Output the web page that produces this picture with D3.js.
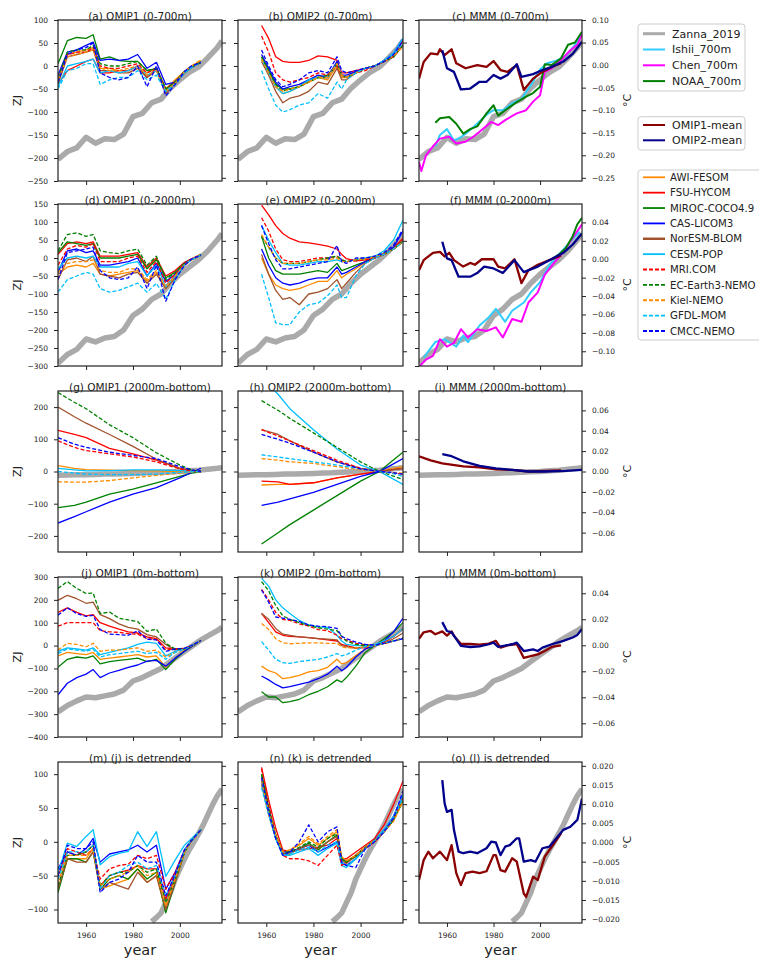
<!DOCTYPE html>
<html><head><meta charset="utf-8">
<script src="https://cdn.jsdelivr.net/npm/d3@7"></script>
<style>body{margin:0;background:#fff}svg text{font-family:"DejaVu Sans",sans-serif;fill:#222}</style>
</head><body><svg id="c" width="759" height="961"></svg>
<script>
// ---------------- DATA ----------------
const modelNames=["AWI-FESOM","FSU-HYCOM","MIROC-COCO4.9","CAS-LICOM3","NorESM-BLOM","CESM-POP","MRI.COM","EC-Earth3-NEMO","Kiel-NEMO","GFDL-MOM","CMCC-NEMO"];
const modelColors=["darkorange","red","green","blue","sienna","deepskyblue","red","green","darkorange","deepskyblue","blue"];
const modelDashed=[false,false,false,false,false,false,true,true,true,true,true];

const titles=["(a) OMIP1 (0-700m)","(b) OMIP2 (0-700m)","(c) MMM (0-700m)",
"(d) OMIP1 (0-2000m)","(e) OMIP2 (0-2000m)","(f) MMM (0-2000m)",
"(g) OMIP1 (2000m-bottom)","(h) OMIP2 (2000m-bottom)","(i) MMM (2000m-bottom)",
"(j) OMIP1 (0m-bottom)","(k) OMIP2 (0m-bottom)","(l) MMM (0m-bottom)",
"(m) (j) is detrended","(n) (k) is detrended","(o) (l) is detrended"];

const xTicks=[1960,1980,2000];

// year grids
const yrsO1=[1948,1952,1956,1960,1963,1966,1970,1974,1978,1982,1986,1990,1994,1998,2002,2005,2009];
const yrsO2=[1958,1961,1964,1967,1970,1974,1978,1982,1986,1990,1992,1994,1998,2002,2006,2010,2014,2018];
const yrsO1s=[1948,1955,1960,1970,1980,1990,2000,2005,2009];
const yrsO2s=[1958,1965,1970,1980,1990,2000,2008,2013,2018];

// Zanna_2019 (ZJ)
const yrsZ=[1948,1952,1956,1960,1964,1968,1972,1976,1980,1984,1988,1992,1996,2000,2004,2008,2012,2016,2018];
const zanna700=[-203,-186,-178,-155,-168,-158,-160,-148,-110,-103,-80,-72,-48,-30,-14,-2,18,40,55];
const zanna2000=[-292,-268,-254,-225,-233,-222,-218,-200,-160,-142,-115,-100,-70,-45,-25,-5,20,50,68];
const zannaDeep=[-12,-11,-10,-10,-9,-8,-8,-7,-6,-5,-4,-2,-1,0,2,4,7,10,12];
const zannaFull=[-290,-262,-242,-225,-228,-220,-212,-195,-155,-140,-120,-100,-70,-40,-12,18,42,65,80];
const yrsZd=[1988,1990,1992,1994,1996,1998,2000,2002,2004,2006,2008,2010,2012,2014,2016,2018];
const zannaDet=[-118,-112,-105,-90,-75,-55,-40,-25,-12,0,12,25,40,55,68,78];

// (a) OMIP1 0-700m, ZJ, order of modelNames
const omip1_700=[
[-35,25,30,35,40,-5,-5,-10,-10,0,-15,-5,-50,-30,-12,0,12],
[-40,-10,0,10,15,-15,-15,-10,-10,0,-25,-5,-55,-40,-15,-3,8],
[5,55,62,60,68,15,20,12,10,10,-10,-5,-50,-35,-12,-2,8],
[-20,30,35,45,52,12,15,12,15,25,-5,8,-40,-35,-12,0,8],
[-40,20,25,30,35,-10,-10,-15,-15,-5,-25,-10,-60,-40,-15,-3,8],
[-45,0,5,10,15,-15,-10,-15,-10,0,-20,-10,-55,-40,-15,-3,8],
[-30,25,30,30,40,0,-5,-5,0,5,-15,-5,-50,-35,-12,-2,8],
[-25,30,35,35,45,5,0,0,5,10,-10,-5,-50,-35,-12,-2,8],
[-30,20,25,30,35,-5,-10,-10,-5,0,-20,-10,-55,-38,-12,0,14],
[-50,-10,-5,5,5,-40,-30,-25,-25,-10,-30,-20,-55,-40,-15,-3,8],
[-35,25,35,40,50,-15,-25,-30,-25,0,-45,0,-65,-40,-12,0,8]];
// (b) OMIP2 0-700m
const omip2_700=[
[15,-15,-45,-60,-55,-45,-35,-25,-30,0,-25,-25,-15,-5,0,10,22,45],
[88,60,20,10,8,8,12,22,20,12,-15,-15,-10,-5,0,10,25,55],
[20,-10,-40,-50,-50,-45,-30,-25,-20,5,-20,-25,-15,-5,0,10,20,45],
[25,-5,-35,-50,-45,-40,-30,-20,-25,10,-20,-20,-12,-5,0,12,28,60],
[10,-20,-55,-80,-70,-65,-55,-35,-40,-5,-30,-30,-15,-5,0,10,22,45],
[15,-15,-45,-60,-55,-45,-30,-25,-25,5,-20,-25,-15,-5,0,12,28,60],
[65,30,-15,-30,-35,-30,-25,-15,-20,0,-20,-25,-15,-10,0,10,20,45],
[20,-10,-40,-55,-50,-45,-35,-25,-25,5,-20,-25,-15,-5,0,10,20,45],
[15,-15,-45,-55,-50,-45,-35,-25,-25,5,-20,-25,-15,-5,0,10,22,42],
[-10,-50,-85,-100,-95,-85,-80,-60,-70,-35,-50,-30,-15,-5,0,12,25,50],
[35,0,-30,-45,-40,-30,-15,-10,-15,20,-10,-15,-10,-5,0,10,25,55]];
// (d) OMIP1 0-2000m
const omip1_2000=[
[-45,-25,-20,-25,-15,-45,-50,-45,-40,-35,-65,-40,-85,-55,-20,-3,10],
[10,40,45,40,45,5,5,5,10,15,-25,0,-50,-35,-12,-2,10],
[15,45,40,35,40,0,0,0,5,10,-30,-5,-55,-40,-15,-3,8],
[-40,20,25,15,20,-20,-20,-15,-10,0,-50,-15,-65,-45,-15,-3,8],
[-60,-5,0,-10,5,-45,-50,-55,-45,-40,-70,-45,-85,-55,-20,-5,8],
[-30,0,5,0,5,-25,-25,-25,-15,-10,-50,-20,-80,-50,-18,-3,8],
[-20,25,35,30,40,-10,-10,-10,0,5,-40,-10,-70,-45,-15,-3,8],
[20,65,70,60,65,20,15,12,20,25,-20,5,-60,-40,-15,-5,10],
[-40,-15,-10,-10,-5,-35,-40,-40,-30,-30,-60,-35,-80,-50,-18,-3,10],
[-95,-60,-50,-40,-45,-85,-95,-90,-80,-70,-95,-70,-115,-60,-20,-5,8],
[-60,15,20,25,30,-35,-55,-60,-55,-25,-85,-20,-120,-60,-20,-3,8]];
// (e) OMIP2 0-2000m
const omip2_2000=[
[0,-45,-75,-85,-90,-85,-75,-65,-65,-35,-55,-45,-30,-12,0,10,25,45],
[147,120,90,68,55,45,42,38,33,25,10,-2,-8,-5,0,12,28,55],
[60,0,-35,-45,-45,-45,-40,-35,-40,-15,-35,-30,-20,-10,0,10,25,50],
[25,-20,-55,-70,-75,-70,-60,-55,-55,-25,-45,-40,-25,-10,0,12,30,75],
[10,-45,-90,-115,-110,-130,-100,-95,-85,-60,-85,-70,-40,-15,0,10,25,50],
[90,50,15,-15,-20,-20,-15,-10,-10,-5,-10,-10,-5,0,5,20,50,105],
[112,75,25,-5,-10,-10,-5,0,0,5,-5,-10,-8,-5,0,10,25,50],
[60,30,0,-15,-15,-15,-10,-5,0,5,-5,-10,-5,-2,3,12,25,45],
[65,30,0,-15,-15,-15,-10,-5,-5,0,-10,-10,-5,-2,3,12,25,45],
[-45,-110,-180,-185,-185,-150,-130,-125,-105,-75,-110,-110,-50,-15,0,10,25,45],
[90,40,-5,-30,-30,-25,-20,-15,-10,35,-10,-15,0,0,5,15,35,80]];
// (g) OMIP1 2000m-bottom
const omip1_deep=[
[18,10,6,4,3,2,0,0,0],
[128,115,105,72,55,35,10,3,0],
[-112,-105,-95,-70,-55,-35,-15,-5,0],
[-160,-140,-125,-95,-70,-50,-20,-3,10],
[200,170,150,115,78,38,10,3,0],
[10,5,2,3,5,5,3,1,0],
[95,75,65,55,45,30,8,2,0],
[245,215,195,145,105,58,20,5,0],
[-32,-33,-33,-28,-20,-12,-5,-2,0],
[0,-5,-8,-10,-10,-8,-3,-1,0],
[105,85,75,60,50,40,15,5,0]];
// (h) OMIP2 2000m-bottom
const omip2_deep=[
[-42,-40,-40,-35,-20,-8,0,8,15],
[-30,-32,-40,-35,-20,-8,0,5,10],
[-225,-190,-165,-120,-75,-30,0,30,60],
[-105,-95,-85,-65,-40,-15,0,20,40],
[130,115,95,60,30,10,0,5,10],
[290,240,195,130,70,20,0,-20,-40],
[130,110,95,65,35,10,0,-5,-8],
[220,190,165,120,75,30,0,-12,-25],
[40,35,30,25,15,5,0,-3,-5],
[52,45,40,30,20,8,0,-5,-15],
[115,100,88,60,30,8,0,-3,-8]];
// (j) OMIP1 0m-bottom
const omip1_full=[
[-45,-30,-35,-40,-30,-60,-55,-50,-45,-40,-50,-45,-95,-55,-20,-2,22],
[145,165,145,130,135,100,85,72,60,55,38,30,-10,-15,-12,0,22],
[-95,-60,-50,-55,-45,-80,-70,-65,-60,-55,-70,-60,-105,-60,-25,-5,22],
[-215,-165,-140,-125,-105,-140,-120,-108,-95,-85,-68,-65,-90,-55,-25,-5,22],
[198,220,205,185,190,135,118,95,80,72,48,38,5,-20,-15,-3,22],
[-25,-10,-15,-20,-10,-40,-30,-20,-10,5,15,10,-45,-25,-12,0,22],
[85,100,100,100,100,65,60,58,52,50,30,28,-20,-15,-12,0,22],
[250,280,250,228,230,140,147,120,112,105,62,72,10,-15,-15,-3,22],
[-20,10,5,-5,10,-25,-20,-20,-15,-10,-25,-20,-50,-30,-15,-2,22],
[-35,-15,-20,-25,-15,-50,-40,-35,-30,-25,-35,-30,-60,-30,-15,0,22],
[133,165,140,128,132,70,50,48,45,65,28,25,-25,-15,-12,0,22]];
// (k) OMIP2 0m-bottom
const omip2_full=[
[-90,-110,-120,-145,-140,-130,-115,-110,-95,-60,-80,-75,-45,-15,0,15,40,75],
[141,100,60,45,40,38,35,30,25,20,5,0,-10,-10,0,15,40,75],
[-202,-225,-225,-250,-245,-235,-215,-200,-180,-150,-160,-140,-90,-30,0,30,60,100],
[-133,-150,-170,-185,-180,-170,-160,-145,-125,-90,-110,-95,-50,-15,0,20,60,120],
[140,115,75,50,45,38,35,30,28,25,0,-5,-12,-5,0,10,30,55],
[294,260,200,165,140,110,90,82,80,45,20,5,0,0,5,20,40,75],
[246,200,145,115,110,95,85,70,65,45,30,25,10,3,0,8,20,35],
[280,240,175,130,115,100,88,78,72,65,40,20,5,0,0,10,20,30],
[97,70,30,12,8,10,12,12,10,10,-5,-10,-10,-5,0,10,20,30],
[17,-20,-60,-75,-78,-70,-65,-60,-50,-35,-45,-40,-20,-5,0,10,20,30],
[243,190,125,120,115,105,90,85,82,75,40,30,15,5,2,10,20,30]];
// (m) OMIP1 detrended
const omip1_det=[
[-70,-25,-25,-25,-10,-70,-65,-60,-55,-40,-60,-50,-100,-60,-15,2,18],
[-50,-15,-20,-15,-5,-65,-50,-45,-42,-35,-40,-40,-85,-50,-12,2,18],
[-75,-25,-25,-30,-15,-70,-55,-50,-55,-40,-55,-45,-105,-60,-15,2,18],
[-40,-15,-20,-10,5,-30,-18,-15,-12,-5,-15,-5,-70,-45,-12,2,18],
[-70,-25,-30,-30,-15,-70,-60,-65,-70,-45,-60,-50,-100,-60,-15,2,18],
[-46,-2,-7,8,18,-34,-22,-17,-14,15,-7,15,-51,-27,-5,5,18],
[-55,-10,-15,-20,-10,-55,-40,-35,-33,-20,-25,-20,-70,-45,-12,2,18],
[-65,-20,-20,-15,-5,-65,-50,-45,-45,-35,-45,-40,-90,-55,-15,2,18],
[-60,-20,-20,-20,-10,-65,-55,-50,-45,-35,-50,-45,-95,-55,-15,2,18],
[-55,-15,-15,-15,-5,-70,-50,-45,-35,-30,-40,-35,-80,-50,-12,2,18],
[-50,-5,-10,-10,0,-75,-60,-55,-45,-20,-30,-30,-80,-48,-12,2,18]];
// (n) OMIP2 detrended
const omip2_det=[
[95,45,10,-15,-12,-5,5,-5,5,15,-25,-28,-20,-8,2,15,32,60],
[110,62,20,-12,-15,-12,-10,-8,-5,5,-25,-25,-15,-5,5,25,55,90],
[100,50,10,-18,-15,-10,-2,-12,0,10,-25,-30,-22,-8,2,15,32,65],
[90,45,5,-15,-15,-10,-5,-15,-8,0,-32,-35,-25,-10,2,18,38,70],
[85,40,5,-18,-18,-10,-5,-10,0,8,-28,-32,-20,-8,2,15,35,65],
[90,45,5,-20,-20,-15,-10,-20,-10,-2,-35,-38,-25,-10,2,18,38,70],
[108,55,10,-20,-25,-25,-28,-35,-20,-5,-35,-30,-20,-10,0,15,35,65],
[100,50,10,-15,-15,-8,0,-8,5,12,-25,-30,-20,-8,2,15,32,60],
[90,45,10,-15,-12,-3,8,-3,8,18,-22,-28,-20,-8,2,15,30,60],
[80,40,5,-20,-18,-12,-8,-15,-5,0,-30,-35,-25,-10,2,15,35,65],
[95,45,5,-20,-15,0,25,0,15,22,-30,-35,-38,-10,0,15,35,75]];

// MMM and observations (degC)
const mmm1_700_y=[1948,1950,1953,1956,1957,1959,1962,1964,1968,1973,1977,1980,1983,1986,1990,1993,1997,2001,2005,2009];
const mmm1_700=[-0.030,0.007,0.026,0.024,0.035,0.022,0.035,0.004,-0.007,0.000,-0.004,0.009,-0.011,-0.015,0.000,-0.055,-0.030,-0.015,-0.004,0.004];
const mmm2_700_y=[1958,1960,1963,1966,1970,1974,1977,1980,1983,1986,1990,1992,1997,2001,2005,2010,2014,2018];
const mmm2_700=[0.033,-0.007,-0.015,-0.054,-0.052,-0.037,-0.037,-0.022,-0.030,-0.022,0.002,-0.026,-0.020,-0.011,-0.004,0.008,0.025,0.052];
const noaa700_y=[1955,1957,1961,1964,1967,1970,1973,1977,1980,1982,1985,1990,1994,1997,2000,2002,2005,2009,2012,2015,2018];
const noaa700=[-0.128,-0.118,-0.115,-0.130,-0.152,-0.142,-0.136,-0.107,-0.089,-0.112,-0.100,-0.082,-0.070,-0.062,-0.048,0.002,0.000,0.015,0.045,0.050,0.074];
const ishii700_y=[1955,1957,1960,1963,1966,1969,1973,1977,1980,1984,1988,1992,1996,2000,2003,2007,2011,2015,2018];
const ishii700=[-0.180,-0.155,-0.142,-0.167,-0.160,-0.148,-0.130,-0.110,-0.100,-0.100,-0.085,-0.075,-0.045,-0.010,0.004,0.010,0.020,0.045,0.070];
const chen700_y=[1948,1949,1951,1954,1957,1961,1964,1968,1971,1974,1979,1982,1985,1990,1994,1997,2000,2002,2005,2009,2013,2016,2018];
const chen700=[-0.215,-0.235,-0.200,-0.180,-0.163,-0.159,-0.174,-0.170,-0.160,-0.148,-0.126,-0.133,-0.122,-0.107,-0.100,-0.081,-0.067,-0.015,-0.007,0.011,0.033,0.045,0.068];

const mmm1_2000_y=[1948,1950,1954,1957,1959,1961,1963,1967,1970,1972,1975,1980,1982,1985,1989,1992,1995,1999,2004,2009];
const mmm1_2000=[-0.012,-0.001,0.007,0.008,0.003,0.007,-0.001,-0.008,-0.004,-0.006,0.000,0.000,-0.008,-0.010,0.000,-0.026,-0.012,-0.006,-0.001,0.004];
const mmm2_2000_y=[1958,1960,1962,1965,1970,1973,1976,1980,1984,1989,1993,1999,2004,2010,2014,2018];
const mmm2_2000=[0.019,0.001,-0.001,-0.019,-0.019,-0.015,-0.008,-0.010,-0.015,-0.001,-0.014,-0.008,-0.001,0.007,0.016,0.028];
const chen2000_y=[1948,1951,1954,1957,1960,1963,1966,1969,1973,1977,1981,1984,1988,1992,1995,1999,2002,2006,2010,2014,2018];
const chen2000=[-0.117,-0.109,-0.105,-0.087,-0.095,-0.091,-0.076,-0.085,-0.076,-0.078,-0.074,-0.085,-0.065,-0.068,-0.047,-0.036,-0.017,-0.004,0.008,0.023,0.038];
const ishii2000_y=[1950,1952,1955,1959,1964,1967,1969,1974,1978,1981,1985,1988,1993,1996,2000,2004,2008,2012,2017];
const ishii2000=[-0.107,-0.100,-0.090,-0.087,-0.095,-0.083,-0.090,-0.072,-0.063,-0.054,-0.068,-0.056,-0.047,-0.036,-0.025,-0.006,0.005,0.016,0.030];
const noaa2000_y=[2005,2008,2011,2014,2016,2018];
const noaa2000=[0.000,0.005,0.012,0.025,0.038,0.045];

const mmm1_deep_y=[1948,1953,1958,1967,1974,1981,1988,1995,2002,2009];
const mmm1_deep=[0.015,0.011,0.008,0.005,0.004,0.002,0.0015,0.000,0.0005,0.001];
const mmm2_deep_y=[1958,1962,1967,1974,1981,1988,1995,2002,2011,2018];
const mmm2_deep=[0.017,0.015,0.010,0.0056,0.003,0.0016,0.000,0.000,0.0007,0.0016];

const mmm1_full_y=[1948,1950,1953,1955,1958,1960,1962,1963,1966,1970,1974,1978,1981,1983,1986,1990,1993,1996,1999,2002,2005,2009];
const mmm1_full=[0.005,0.010,0.011,0.0085,0.0107,0.0075,0.0107,0.0073,0.001,0.001,0.0005,0.0013,0.0034,-0.0018,0.000,0.001,-0.0097,-0.0084,-0.007,-0.0044,-0.0013,0.000];
const mmm2_full_y=[1958,1960,1962,1964,1966,1970,1974,1978,1980,1982,1988,1990,1993,1997,1999,2001,2005,2010,2014,2016,2018];
const mmm2_full=[0.0178,0.011,0.010,0.0047,-0.0005,-0.0013,-0.0008,0.0008,0.002,-0.0013,0.0008,0.002,-0.0044,-0.0031,-0.0044,-0.0018,0.0008,0.0034,0.006,0.008,0.0125];

const mmm1_det_y=[1948,1950,1952,1954,1957,1960,1962,1964,1966,1968,1971,1974,1977,1980,1981,1983,1985,1988,1990,1993,1994,1997,1999,2002,2005,2009];
const mmm1_det=[-0.0098,-0.0046,-0.0024,-0.0041,-0.0024,-0.0046,-0.0007,-0.0080,-0.0111,-0.0080,-0.0076,-0.0080,-0.0075,-0.0033,-0.0033,-0.0072,-0.0076,-0.0041,-0.0050,-0.0133,-0.0142,-0.0089,-0.0098,-0.0037,-0.0011,0.0024];
const mmm2_det_y=[1958,1959,1960,1962,1963,1965,1967,1970,1973,1977,1979,1981,1983,1985,1987,1990,1991,1993,1996,1998,2001,2004,2007,2010,2013,2016,2018];
const mmm2_det=[0.0163,0.0102,0.0080,0.0085,0.0033,-0.0024,-0.0028,-0.0024,-0.0028,-0.0015,0.0002,0.0000,-0.0033,-0.0011,-0.0007,0.0011,0.0011,-0.0050,-0.0046,-0.0050,-0.0015,-0.0011,0.0011,0.0033,0.0041,0.0059,0.0115];

// axis tick labels
const zjTicks=[[-250,-200,-150,-100,-50,0,50,100],[-300,-250,-200,-150,-100,-50,0,50,100,150],[-200,-100,0,100,200],[-400,-300,-200,-100,0,100,200,300],[-100,-50,0,50,100]];
const degTicks=[[-0.25,-0.20,-0.15,-0.10,-0.05,0,0.05,0.10],[-0.10,-0.08,-0.06,-0.04,-0.02,0,0.02,0.04],[-0.06,-0.04,-0.02,0,0.02,0.04,0.06],[-0.06,-0.04,-0.02,0,0.02,0.04],[-0.020,-0.015,-0.010,-0.005,0,0.005,0.010,0.015,0.020]];
const zjDomains=[[-250,100],[-300,150],[-250,250],[-400,300],[-120,118]];
const degDomains=[[-0.257,0.10],[-0.116,0.060],[-0.079,0.079],[-0.0705,0.0525],[-0.021,0.021]];

// ---------------- DRAW ----------------
const svg=d3.select("#c");
const colX=[[58,222],[238,403],[419,582]];
const rowY=[[20,181],[204,366],[391,552],[577,737],[762,923]];
const zebraColor="#aaaaaa", ishiiColor="#33ccff", chenColor="magenta", noaaColor="green";
const m1Color="#8b0000", m2Color="#00008b";

const rows=[
 {o1:omip1_700,y1:yrsO1,o2:omip2_700,y2:yrsO2,zy:yrsZ,z:zanna700,
  m1:[mmm1_700_y,mmm1_700],m2:[mmm2_700_y,mmm2_700],
  obs:[[ishii700_y,ishii700,ishiiColor],[chen700_y,chen700,chenColor],[noaa700_y,noaa700,noaaColor]],fmt:".2f"},
 {o1:omip1_2000,y1:yrsO1,o2:omip2_2000,y2:yrsO2,zy:yrsZ,z:zanna2000,
  m1:[mmm1_2000_y,mmm1_2000],m2:[mmm2_2000_y,mmm2_2000],
  obs:[[ishii2000_y,ishii2000,ishiiColor],[chen2000_y,chen2000,chenColor],[noaa2000_y,noaa2000,noaaColor]],fmt:".2f"},
 {o1:omip1_deep,y1:yrsO1s,o2:omip2_deep,y2:yrsO2s,zy:yrsZ,z:zannaDeep,
  m1:[mmm1_deep_y,mmm1_deep],m2:[mmm2_deep_y,mmm2_deep],obs:[],fmt:".2f"},
 {o1:omip1_full,y1:yrsO1,o2:omip2_full,y2:yrsO2,zy:yrsZ,z:zannaFull,
  m1:[mmm1_full_y,mmm1_full],m2:[mmm2_full_y,mmm2_full],obs:[],fmt:".2f"},
 {o1:omip1_det,y1:yrsO1,o2:omip2_det,y2:yrsO2,zy:yrsZd,z:zannaDet,
  m1:[mmm1_det_y,mmm1_det],m2:[mmm2_det_y,mmm2_det],obs:[],fmt:".3f"}
];

function drawLine(g,x,y,yrs,vals,color,w,dash){
  const pts=yrs.map((t,i)=>[t,vals[i]]);
  g.append("path").datum(pts)
   .attr("d",d3.line().x(d=>x(d[0])).y(d=>y(d[1])))
   .attr("fill","none").attr("stroke",color).attr("stroke-width",w)
   .attr("stroke-linejoin","round")
   .attr("stroke-dasharray",dash?"4,2":null);
}

rows.forEach((row,r)=>{
  for(let c=0;c<3;c++){
    const [x0,x1]=colX[c],[y0,y1]=rowY[r];
    const x=d3.scaleLinear().domain([1948,2018]).range([x0,x1]);
    const yZ=d3.scaleLinear().domain(zjDomains[r]).range([y1,y0]);
    const yC=d3.scaleLinear().domain(degDomains[r]).range([y1,y0]);
    const id="clip"+r+c;
    svg.append("clipPath").attr("id",id).append("rect")
      .attr("x",x0).attr("y",y0).attr("width",x1-x0).attr("height",y1-y0);
    const g=svg.append("g").attr("clip-path","url(#"+id+")");
    drawLine(g,x,yZ,row.zy,row.z,zebraColor,5.5,false);
    if(c<2){
      const set=c===0?row.o1:row.o2, yrs=c===0?row.y1:row.y2;
      set.forEach((vals,i)=>drawLine(g,x,yZ,yrs,vals,modelColors[i],1.3,modelDashed[i]));
    } else {
      row.obs.forEach(o=>drawLine(g,x,yC,o[0],o[1],o[2],2,false));
      drawLine(g,x,yC,row.m1[0],row.m1[1],m1Color,2.3,false);
      drawLine(g,x,yC,row.m2[0],row.m2[1],m2Color,2.3,false);
    }
    // axes
    const ax=svg.append("g").attr("transform","translate(0,"+y1+")")
      .call(d3.axisBottom(x).tickValues(xTicks).tickSize(4).tickPadding(6)
        .tickFormat(r===4?d3.format("d"):()=>""));
    const al=svg.append("g").attr("transform","translate("+x0+",0)")
      .call(d3.axisLeft(yZ).tickValues(zjTicks[r]).tickSize(4).tickPadding(6)
        .tickFormat(c===0?d3.format("d"):()=>""));
    const ar=svg.append("g").attr("transform","translate("+x1+",0)")
      .call(d3.axisRight(yC).tickValues(degTicks[r]).tickSize(4).tickPadding(6)
        .tickFormat(c===2?d3.format(row.fmt):()=>""));
    [ax,al,ar].forEach(a=>{
      a.select(".domain").remove();
      a.selectAll("line").attr("stroke","#222").attr("stroke-width",1);
      a.selectAll("text").attr("font-size",7.5).attr("fill","#222")
        .style("font-family","'DejaVu Sans',sans-serif");
    });
    svg.append("rect").attr("x",x0).attr("y",y0).attr("width",x1-x0).attr("height",y1-y0)
      .attr("fill","none").attr("stroke","#222").attr("stroke-width",1.2);
    svg.append("text").attr("x",(x0+x1)/2).attr("y",y0-0.5).attr("text-anchor","middle")
      .attr("font-size",10.5).text(titles[r*3+c]);
    if(c===0){
      svg.append("text").attr("transform","translate(21,"+((y0+y1)/2)+") rotate(-90)")
        .attr("text-anchor","middle").attr("font-size",11).text("ZJ");
    }
    if(c===2){
      svg.append("text").attr("transform","translate(631,"+((y0+y1)/2)+") rotate(-90)")
        .attr("text-anchor","middle").attr("font-size",11).text("°C");
    }
    if(r===4){
      svg.append("text").attr("x",(x0+x1)/2).attr("y",955).attr("text-anchor","middle")
        .attr("font-size",14.5).text("year");
    }
  }
});

// ---------------- LEGENDS ----------------
const legObs=[["Zanna_2019",zebraColor,3,false],["Ishii_700m",ishiiColor,2,false],["Chen_700m",chenColor,2,false],["NOAA_700m",noaaColor,2,false]];
const legMean=[["OMIP1-mean",m1Color,2,false],["OMIP2-mean",m2Color,2,false]];
const legModels=modelNames.map((n,i)=>[n,modelColors[i],i===4?2.5:1.8,modelDashed[i]]);

function legend(items,bx,by,bw,bh,firstY,step,fs,tx){
  const g=svg.append("g");
  g.append("rect").attr("x",bx).attr("y",by).attr("width",bw).attr("height",bh)
    .attr("rx",3).attr("fill","white").attr("stroke","#cccccc").attr("stroke-width",1);
  items.forEach((it,i)=>{
    const yy=firstY+i*step;
    g.append("line").attr("x1",bx+5).attr("x2",bx+27).attr("y1",yy).attr("y2",yy)
      .attr("stroke",it[1]).attr("stroke-width",it[2]).attr("stroke-dasharray",it[3]?"4,2":null);
    g.append("text").attr("x",bx+tx).attr("y",yy).attr("dy","0.36em")
      .attr("font-size",fs).text(it[0]);
  });
}
legend(legObs,638,24,107,67,33.7,15.8,11,34);
legend(legMean,638,116.7,107,33.3,125,15.3,11,34);
legend(legModels,638,170,140,170,177.3,15.37,10.2,32);
</script></body></html>
